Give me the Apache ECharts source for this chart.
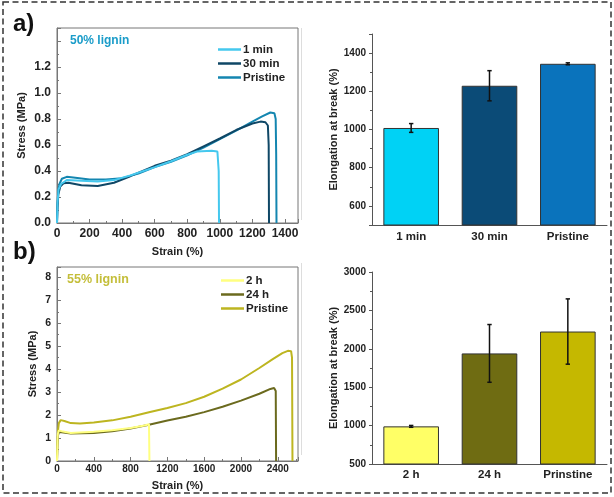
<!DOCTYPE html>
<html><head><meta charset="utf-8">
<script src="https://cdn.jsdelivr.net/npm/echarts@6/dist/echarts.min.js"></script>
<style>html,body{margin:0;padding:0;background:#fff}#c{width:614px;height:497px}</style>
</head><body><div id="c"></div>
<script>
// ---------- DATA ----------
// Panel a: 50% lignin stress-strain curves [strain %, stress MPa]
const a1min = [[0,0],[3,0.15],[10,0.26],[25,0.3],[60,0.33],[150,0.325],[250,0.32],[350,0.33],[450,0.365],[600,0.43],[700,0.475],[800,0.525],[860,0.55],[950,0.555],[985,0.55],[993,0.4],[995,0]];
const a30min = [[0,0],[3,0.12],[8,0.22],[20,0.28],[40,0.305],[70,0.31],[150,0.29],[250,0.285],[350,0.31],[450,0.36],[600,0.44],[700,0.48],[800,0.53],[900,0.59],[1000,0.65],[1100,0.715],[1200,0.765],[1250,0.78],[1280,0.775],[1295,0.75],[1300,0.6],[1302,0]];
const aPristine = [[0,0],[3,0.15],[8,0.25],[15,0.3],[30,0.34],[60,0.355],[100,0.35],[200,0.335],[300,0.335],[400,0.345],[500,0.38],[600,0.43],[700,0.47],[800,0.52],[900,0.58],[1000,0.645],[1100,0.71],[1200,0.78],[1260,0.82],[1310,0.85],[1335,0.845],[1343,0.8],[1346,0.53],[1348,0]];
// Panel a bars: elongation at break (%)
const aCats = ['1 min','30 min','Pristine'];
const aMeans = [1008, 1229, 1344];
const aErrs = [23, 79, 5];
// Panel b: 55% lignin stress-strain curves
const b2h = [[0,0],[5,0.9],[10,1.2],[20,1.33],[50,1.3],[150,1.22],[400,1.27],[600,1.34],[800,1.44],[950,1.55],[1000,1.6],[1005,0]];
const b24h = [[0,0],[5,0.8],[10,1.1],[20,1.25],[50,1.25],[150,1.2],[400,1.22],[600,1.3],[800,1.42],[1000,1.58],[1200,1.76],[1400,1.93],[1600,2.13],[1800,2.36],[2000,2.63],[2200,2.93],[2320,3.14],[2360,3.18],[2378,3.05],[2382,0]];
const bPristine = [[0,0],[5,0.8],[10,1.3],[20,1.65],[40,1.78],[80,1.74],[150,1.65],[250,1.63],[400,1.68],[600,1.77],[800,1.93],[1000,2.12],[1200,2.31],[1400,2.52],[1600,2.8],[1800,3.15],[2000,3.55],[2200,4.05],[2350,4.45],[2450,4.7],[2510,4.8],[2545,4.78],[2555,4.5],[2560,0]];
// Panel b bars
const bCats = ['2 h','24 h','Prinstine'];
const bMeans = [990, 1940, 2225];
const bErrs = [12, 376, 425];

// ---------- STYLES ----------
const aLineColors = ['#45c8ee','#0f4766','#1486b0'];
const aBarColors = ['#00d2f5','#0b4b77','#0a73bc'];
const bLineColors = ['#ffff80','#6b6a1e','#bdb520'];
const bBarColors = ['#ffff66','#6f6c12','#c5b800'];
const FONT = 'Liberation Sans, Arial, sans-serif';
const TXT = '#222';

function lbl(size){ return {fontFamily:FONT,fontWeight:'bold',fontSize:size,color:TXT}; }

const chart = echarts.init(document.getElementById('c'));

function errSeries(xi, yi, means, errs){
  return {
    type:'custom', xAxisIndex:xi, yAxisIndex:yi, z:10, silent:true,
    data: means.map((m,i)=>[i, m-errs[i], m+errs[i]]),
    renderItem(params, api){
      const lo = api.coord([api.value(0), api.value(1)]);
      const hi = api.coord([api.value(0), api.value(2)]);
      const w = 2.2;
      const st = {stroke:'#111', lineWidth:1.5};
      return {type:'group', children:[
        {type:'line', shape:{x1:lo[0],y1:lo[1],x2:hi[0],y2:hi[1]}, style:st},
        {type:'line', shape:{x1:lo[0]-w,y1:lo[1],x2:lo[0]+w,y2:lo[1]}, style:st},
        {type:'line', shape:{x1:hi[0]-w,y1:hi[1],x2:hi[0]+w,y2:hi[1]}, style:st}
      ]};
    }
  };
}

function lineS(name, data, color, xi, yi, z){
  return {type:'line', name, data, xAxisIndex:xi, yAxisIndex:yi, showSymbol:false, symbol:'none',
    lineStyle:{color, width:2}, itemStyle:{color}, z:z||2, animation:false};
}

const boxAxisLine = {show:true, lineStyle:{color:'#777', width:1}};

const option = {
  animation:false,
  grid:[
    {left:57, top:28, width:241, height:195, show:true, borderColor:'#777', borderWidth:1},
    {left:372, top:34, width:235, height:191},
    {left:57, top:267, width:241, height:194, show:true, borderColor:'#777', borderWidth:1},
    {left:372, top:272, width:235, height:192}
  ],
  xAxis:[
    {gridIndex:0, type:'value', min:0, max:1480, interval:200,
     name:'Strain (%)', nameLocation:'middle', nameGap:23, nameTextStyle:lbl(11),
     axisLine:boxAxisLine, axisTick:{inside:true, length:4, lineStyle:{color:'#777'}},
     minorTick:{show:true, splitNumber:2, length:2, lineStyle:{color:'#777'}},
     splitLine:{show:false},
     axisLabel:Object.assign(lbl(12),{margin:5, formatter:v=> (v%200===0? String(v):'')})},
    {gridIndex:1, type:'category', data:aCats,
     axisLine:{show:true, lineStyle:{color:'#555'}}, axisTick:{alignWithLabel:true, length:3, lineStyle:{color:'#555'}},
     axisLabel:Object.assign(lbl(11.5),{margin:6})},
    {gridIndex:2, type:'value', min:0, max:2620, interval:400,
     name:'Strain (%)', nameLocation:'middle', nameGap:19, nameTextStyle:lbl(11),
     axisLine:boxAxisLine, axisTick:{inside:true, length:4, lineStyle:{color:'#777'}},
     minorTick:{show:true, splitNumber:2, length:2, lineStyle:{color:'#777'}},
     splitLine:{show:false},
     axisLabel:Object.assign(lbl(10),{margin:3, formatter:v=> (v%400===0? String(v):'')})},
    {gridIndex:3, type:'category', data:bCats,
     axisLine:{show:true, lineStyle:{color:'#555'}}, axisTick:{alignWithLabel:true, length:3, lineStyle:{color:'#555'}},
     axisLabel:Object.assign(lbl(11.5),{margin:5})}
  ],
  yAxis:[
    {gridIndex:0, type:'value', min:0, max:1.5, interval:0.2,
     name:'Stress (MPa)', nameLocation:'middle', nameGap:30, nameTextStyle:lbl(11),
     axisLine:boxAxisLine, axisTick:{inside:true, length:4, lineStyle:{color:'#777'}},
     minorTick:{show:true, splitNumber:2, length:2, lineStyle:{color:'#777'}},
     splitLine:{show:false},
     axisLabel:Object.assign(lbl(12),{margin:6, formatter:v=> (v<=1.2001? v.toFixed(1):'')})},
    {gridIndex:1, type:'value', min:500, max:1500, splitNumber:5,
     name:'Elongation at break (%)', nameLocation:'middle', nameGap:33, nameTextStyle:lbl(11),
     axisLine:{show:true, lineStyle:{color:'#555'}}, axisTick:{show:true, length:3, lineStyle:{color:'#555'}},
     minorTick:{show:true, splitNumber:2, length:2, lineStyle:{color:'#555'}},
     splitLine:{show:false},
     axisLabel:Object.assign(lbl(10),{margin:6, formatter:v=> (v>500 && v<1500 ? String(v):'')})},
    {gridIndex:2, type:'value', min:0, max:8.45, interval:1,
     name:'Stress (MPa)', nameLocation:'middle', nameGap:19, nameTextStyle:lbl(11),
     axisLine:boxAxisLine, axisTick:{inside:true, length:4, lineStyle:{color:'#777'}},
     minorTick:{show:true, splitNumber:2, length:2, lineStyle:{color:'#777'}},
     splitLine:{show:false},
     axisLabel:Object.assign(lbl(10.5),{margin:6, formatter:v=> (Math.abs(v-Math.round(v))<1e-6? String(Math.round(v)):'')})},
    {gridIndex:3, type:'value', min:500, max:3000, interval:500,
     name:'Elongation at break (%)', nameLocation:'middle', nameGap:31, nameTextStyle:lbl(11),
     axisLine:{show:true, lineStyle:{color:'#555'}}, axisTick:{show:true, length:3, lineStyle:{color:'#555'}},
     minorTick:{show:true, splitNumber:2, length:2, lineStyle:{color:'#555'}},
     splitLine:{show:false},
     axisLabel:Object.assign(lbl(10),{margin:6, formatter:v=> String(v)})}
  ],
  legend:[
    {orient:'vertical', left:213, top:38, itemWidth:23, itemHeight:2.5, itemGap:1, icon:'rect',
     data:['1 min','30 min','Pristine (a)'], formatter:n=>n.replace(/ \(.\)$/,''),
     textStyle:Object.assign(lbl(11.5),{padding:[0,0,0,-3], lineHeight:13})},
    {orient:'vertical', left:216, top:269, itemWidth:23, itemHeight:2.5, itemGap:1, icon:'rect',
     data:['2 h','24 h','Pristine (b)'], formatter:n=>n.replace(/ \(.\)$/,''),
     textStyle:Object.assign(lbl(11.5),{padding:[0,0,0,-3], lineHeight:13})}
  ],
  series:[
    lineS('Pristine (a)', aPristine, aLineColors[2], 0, 0, 2),
    lineS('30 min', a30min, aLineColors[1], 0, 0, 3),
    lineS('1 min', a1min, aLineColors[0], 0, 0, 4),
    {type:'bar', xAxisIndex:1, yAxisIndex:1, barWidth:'71%',
     data:aMeans.map((v,i)=>({value:v, itemStyle:{color:aBarColors[i]}})),
     itemStyle:{borderColor:'#333', borderWidth:1}},
    errSeries(1,1,aMeans,aErrs),
    lineS('Pristine (b)', bPristine, bLineColors[2], 2, 2, 2),
    lineS('24 h', b24h, bLineColors[1], 2, 2, 3),
    lineS('2 h', b2h, bLineColors[0], 2, 2, 4),
    {type:'bar', xAxisIndex:3, yAxisIndex:3, barWidth:'71%',
     data:bMeans.map((v,i)=>({value:v, itemStyle:{color:bBarColors[i]}})),
     itemStyle:{borderColor:'#333', borderWidth:1}},
    errSeries(3,3,bMeans,bErrs)
  ],
  graphic:[
    {type:'rect', shape:{x:3, y:2, width:608, height:491}, style:{fill:null, stroke:'#333', lineWidth:1.5, lineDash:[6,3.5]}, silent:true},
    {type:'line', shape:{x1:301.5,y1:28,x2:301.5,y2:220}, style:{stroke:'#ddd', lineWidth:1}},
    {type:'line', shape:{x1:301.5,y1:263,x2:301.5,y2:455}, style:{stroke:'#ddd', lineWidth:1}},
    {type:'text', left:13, top:12, style:{text:'a)', font:'bold 24px '+FONT, fill:'#111'}},
    {type:'text', left:13, top:240, style:{text:'b)', font:'bold 24px '+FONT, fill:'#111'}},
    {type:'text', left:70, top:35, style:{text:'50% lignin', font:'bold 12px '+FONT, fill:'#1a9cc9'}},
    {type:'text', left:67, top:273, style:{text:'55% lignin', font:'bold 12.5px '+FONT, fill:'#c4be3a'}}
  ]
};
chart.setOption(option);
</script>
</body></html>
